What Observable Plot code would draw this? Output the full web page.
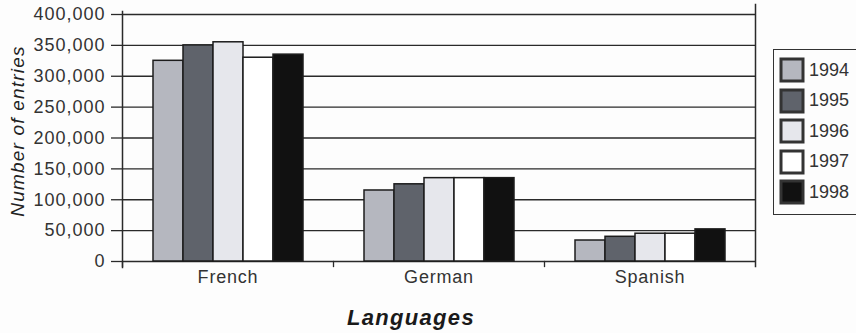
<!DOCTYPE html>
<html>
<head>
<meta charset="utf-8">
<script src="https://cdn.jsdelivr.net/npm/d3@7"></script>
<script src="https://cdn.jsdelivr.net/npm/@observablehq/plot@0.6"></script>
<style>
  html, body { margin: 0; padding: 0; background: #fdfdfd; }
  #wrap { position: relative; width: 856px; height: 333px; overflow: hidden; font-family: "Liberation Sans", Arial, sans-serif; }
  #chart svg { background: transparent; }
  #ylabel { position: absolute; left: 18px; top: 131px; transform: translate(-50%, -50%) rotate(-90deg);
    font-style: italic; font-size: 19px; letter-spacing: 1.2px; color: #222; white-space: nowrap; }
  #xlabel { position: absolute; left: 411px; top: 305px; transform: translateX(-50%);
    font-style: italic; font-weight: bold; font-size: 22px; letter-spacing: 1.3px; color: #1a1a1a; white-space: nowrap; }
  #legend { position: absolute; left: 773px; top: 49px; width: 100px; height: 166px; box-sizing: border-box;
    border: 1.3px solid #333; padding: 9px 0 0 7px; }
  #legend, #legend * { font-family: "Liberation Sans", Arial, sans-serif !important; }
  #legend div { font-size: 18px; color: #333; }
  #legend svg { margin-right: 6px !important; }
  #legend svg rect { stroke: #333; stroke-width: 3px; }
</style>
</head>
<body>
<div id="wrap">
  <div id="chart"></div>
  <div id="ylabel">Number of entries</div>
  <div id="xlabel">Languages</div>
  <div id="legend"></div>
</div>
<script>
const languages = ["French", "German", "Spanish"];
const years = ["1994", "1995", "1996", "1997", "1998"];
const french = [325000, 350000, 355000, 330000, 335000];
const german = [115000, 125000, 135000, 135000, 135000];
const spanish = [34000, 40000, 45000, 45000, 52000];
const yTicks = [0, 50000, 100000, 150000, 200000, 250000, 300000, 350000, 400000];
const yearColors = ["#b5b7bf", "#5f636b", "#e6e7ec", "#ffffff", "#111111"];

const series = {French: french, German: german, Spanish: spanish};
const data = languages.flatMap(lang => years.map((yr, i) => ({language: lang, year: yr, value: series[lang][i]})));

const W = 856, H = 333, mt = 14, mb = 72, ml = 121, mr = 100;
const innerH = H - mt - mb;
const ink = "#2a2a2a";

const chart = Plot.plot({
  width: W,
  height: H,
  marginTop: mt,
  marginBottom: mb,
  marginLeft: ml,
  marginRight: mr,
  style: {fontFamily: "'Liberation Sans', Arial, sans-serif", color: "#333", background: "transparent"},
  fx: {domain: languages, padding: 0, axis: null, label: null},
  x: {domain: years, paddingInner: 0, paddingOuter: 1, axis: null},
  y: {domain: [0, 400000], axis: null},
  color: {domain: years, range: yearColors},
  marks: [
    Plot.gridY(yTicks, {stroke: ink, strokeOpacity: 1, strokeWidth: 1.3}),
    Plot.barY(data, {fx: "language", x: "year", y: "value", fill: "year", stroke: "#1c1c1c", strokeWidth: 1.5}),
    Plot.frame({anchor: "left", facetAnchor: "left", insetTop: -3, insetBottom: -6, stroke: ink, strokeWidth: 1.5}),
    Plot.frame({anchor: "right", facetAnchor: "right", insetTop: -10, insetBottom: -5, stroke: ink, strokeWidth: 1.5}),
    Plot.frame({anchor: "left", insetTop: innerH, insetBottom: -5, stroke: ink, strokeWidth: 1.3}),
    Plot.axisY({ticks: yTicks, tickFormat: d3.format(","), tickSize: 11, tickPadding: 6, fontSize: 18, label: null, stroke: ink, strokeWidth: 1.3}),
    Plot.axisFx({anchor: "bottom", tickSize: 0, tickPadding: 9, fontSize: 18, label: null})
  ]
});
chart.querySelectorAll('g[aria-label="y-axis tick label"] text').forEach(t => t.setAttribute("letter-spacing", "1"));
chart.querySelectorAll('g[aria-label="fx-axis tick label"] text').forEach(t => t.setAttribute("letter-spacing", "0.8"));
document.getElementById("chart").append(chart);

const legend = Plot.legend({
  color: {domain: years, range: yearColors, type: "ordinal"},
  legend: "swatches",
  columns: 1,
  swatchSize: 22,
  className: "lg"
});
document.getElementById("legend").append(legend);
</script>
<style>
  #legend .lg-swatch { padding-bottom: 8.5px !important; }
</style>
</body>
</html>
